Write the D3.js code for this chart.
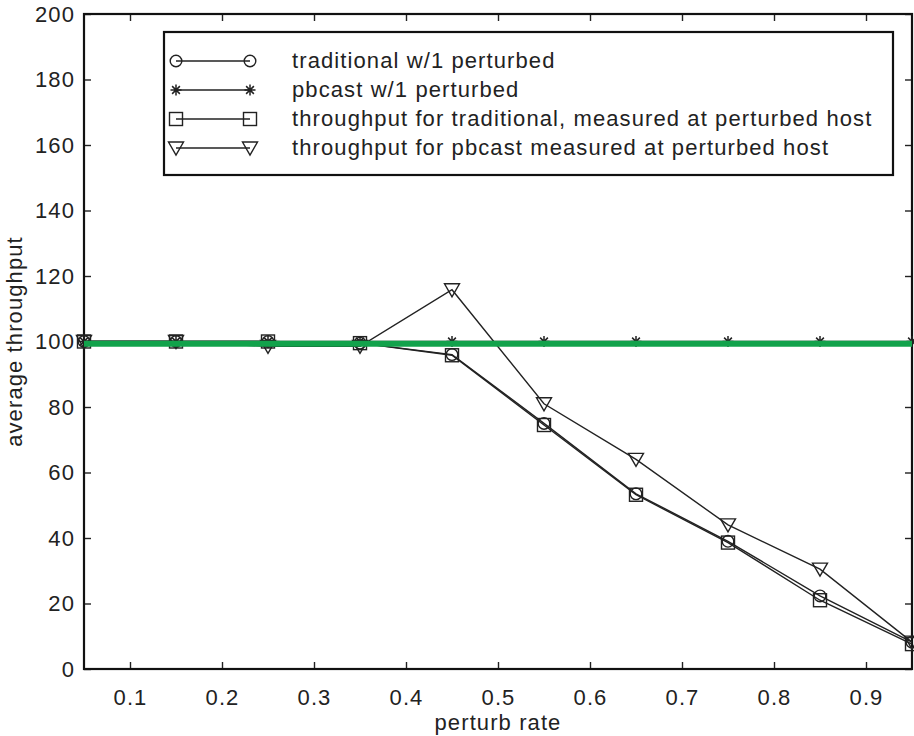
<!DOCTYPE html>
<html>
<head>
<meta charset="utf-8">
<title>average throughput vs perturb rate</title>
<script src="https://cdn.jsdelivr.net/npm/d3@7"></script>
<style>
  body { margin: 0; background: #fff; }
  text { font-family: "Liberation Sans", Arial, sans-serif; font-size: 22px; letter-spacing: 1.1px; fill: #222; }
</style>
</head>
<body>
<svg id="chart" width="914" height="736"></svg>
<script>
// perturb rate on the x axis
var rates = [0.05, 0.15, 0.25, 0.35, 0.45, 0.55, 0.65, 0.75, 0.85, 0.95];

// the four series
var traditional   = [100, 100, 100, 99.5, 96, 75, 53.5, 39, 22.3, 8.2];
var pbcast        = [100, 100, 100, 100, 100, 100, 100, 100, 100, 100];
var tradMeasured  = [100, 100, 100, 99.5, 95.8, 74.5, 53.2, 38.6, 21, 7.6];
var pbcastMeasured = [100, 100, 98.5, 98.5, 115.8, 81, 64, 44, 30.5, 8.2];

// the green line laid across at ~100
var greenLevel = [99.3, 99.3];

var xTicks = [0.1, 0.2, 0.3, 0.4, 0.5, 0.6, 0.7, 0.8, 0.9];
var yTicks = [0, 20, 40, 60, 80, 100, 120, 140, 160, 180, 200];

var legendLabels = [
  "traditional w/1 perturbed",
  "pbcast w/1 perturbed",
  "throughput for traditional, measured at perturbed host",
  "throughput for pbcast measured at perturbed host"
];
var markerKinds = ["circle", "star", "square", "triangle"];

var svg = d3.select("#chart");
var margin = {left: 84, right: 2, top: 14, bottom: 67};
var W = 914, H = 736;

var x = d3.scaleLinear().domain([0.05, 0.95]).range([margin.left, W - margin.right]);
var y = d3.scaleLinear().domain([0, 200]).range([H - margin.bottom, margin.top]);

// axes, ticks pointing inward on all four sides
var tickLen = 7;
svg.append("g").attr("transform", "translate(0," + y(0) + ")")
  .call(d3.axisBottom(x).tickValues(xTicks).tickSizeInner(-tickLen).tickSizeOuter(0).tickPadding(20).tickFormat(d3.format(".1f")));
svg.append("g").attr("transform", "translate(0," + y(200) + ")")
  .call(d3.axisTop(x).tickValues(xTicks).tickSizeInner(-tickLen).tickSizeOuter(0).tickFormat(""));
svg.append("g").attr("transform", "translate(" + x(0.05) + ",0)")
  .call(d3.axisLeft(y).tickValues(yTicks).tickSizeInner(-tickLen).tickSizeOuter(0).tickPadding(9));
svg.append("g").attr("transform", "translate(" + x(0.95) + ",0)")
  .call(d3.axisRight(y).tickValues(yTicks).tickSizeInner(-tickLen).tickSizeOuter(0).tickFormat(""));

svg.selectAll(".domain").remove();
svg.selectAll(".tick line").attr("stroke", "#222").attr("stroke-width", 1.4);
svg.selectAll(".tick text").attr("fill", "#222").style("font-size", "22px").style("font-family", "Liberation Sans, Arial, sans-serif");

// frame
svg.append("rect")
  .attr("x", x(0.05)).attr("y", y(200))
  .attr("width", x(0.95) - x(0.05)).attr("height", y(0) - y(200))
  .attr("fill", "none").attr("stroke", "#111").attr("stroke-width", 2.2);

// axis titles
svg.append("text").attr("x", x(0.5)).attr("y", 730).attr("text-anchor", "middle").text("perturb rate");
svg.append("text").attr("transform", "translate(22," + y(100) + ") rotate(-90)")
  .attr("text-anchor", "middle").text("average throughput");

// marker drawing
function drawMarker(g, kind, cx, cy) {
  var s = "#222";
  if (kind === "circle") {
    g.append("circle").attr("cx", cx).attr("cy", cy).attr("r", 5.8)
      .attr("fill", "none").attr("stroke", s).attr("stroke-width", 1.4);
  } else if (kind === "square") {
    g.append("rect").attr("x", cx - 6.5).attr("y", cy - 6.5).attr("width", 13).attr("height", 13)
      .attr("fill", "none").attr("stroke", s).attr("stroke-width", 1.4);
  } else if (kind === "triangle") {
    g.append("path").attr("d", "M" + (cx - 7.5) + "," + (cy - 6) + "L" + (cx + 7.5) + "," + (cy - 6) + "L" + cx + "," + (cy + 7) + "Z")
      .attr("fill", "none").attr("stroke", s).attr("stroke-width", 1.4);
  } else if (kind === "star") {
    var r = 5.5, d = "";
    [0, 45, 90, 135].forEach(function (a) {
      var t = a * Math.PI / 180;
      d += "M" + (cx - r * Math.cos(t)) + "," + (cy - r * Math.sin(t)) + "L" + (cx + r * Math.cos(t)) + "," + (cy + r * Math.sin(t));
    });
    g.append("path").attr("d", d).attr("stroke", s).attr("stroke-width", 1.5);
  }
}

var line = d3.line().x(function (d) { return x(d[0]); }).y(function (d) { return y(d[1]); });
var seriesList = [traditional, pbcast, tradMeasured, pbcastMeasured];

seriesList.forEach(function (vals, i) {
  var pts = rates.map(function (r, j) { return [r, vals[j]]; });
  var g = svg.append("g");
  g.append("path").datum(pts).attr("d", line)
    .attr("fill", "none").attr("stroke", "#222").attr("stroke-width", 1.4);
  pts.forEach(function (p) { drawMarker(g, markerKinds[i], x(p[0]), y(p[1])); });
});

// green line over everything
svg.append("path").datum([[0.05, greenLevel[0]], [0.95, greenLevel[1]]]).attr("d", line)
  .attr("stroke", "#12a24b").attr("stroke-width", 6).attr("fill", "none");

// legend
var leg = svg.append("g");
leg.append("rect").attr("x", 164).attr("y", 32).attr("width", 729).attr("height", 143)
  .attr("fill", "#fff").attr("stroke", "#111").attr("stroke-width", 2.2);
legendLabels.forEach(function (lab, i) {
  var ly = 61 + i * 29;
  leg.append("line").attr("x1", 176).attr("x2", 250).attr("y1", ly).attr("y2", ly)
    .attr("stroke", "#222").attr("stroke-width", 1.4);
  drawMarker(leg, markerKinds[i], 176, ly);
  drawMarker(leg, markerKinds[i], 250, ly);
  leg.append("text").attr("x", 292).attr("y", ly + 7).text(lab);
});
</script>
</body>
</html>
